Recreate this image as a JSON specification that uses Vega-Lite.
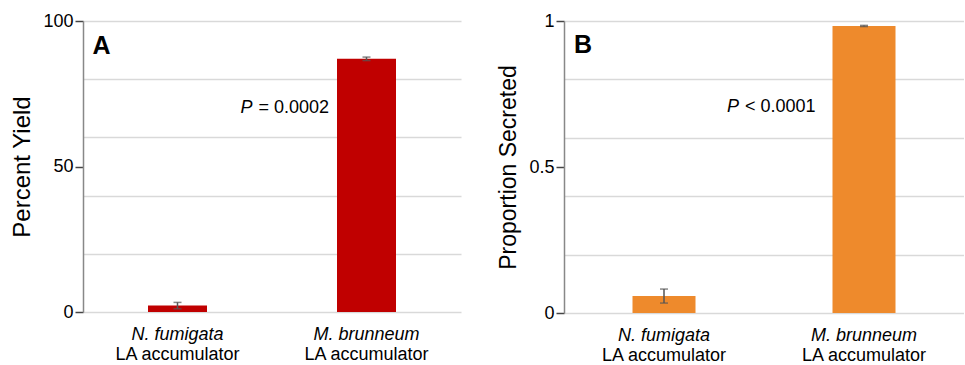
{
  "$schema": "https://vega.github.io/schema/vega-lite/v6.json",
  "padding": {"left": 10, "top": 12, "right": 0, "bottom": 0},
  "background": "white",
  "config": {
    "font": "Liberation Sans",
    "view": {"stroke": null},
    "axis": {"labelColor": "#000", "titleColor": "#000", "titleFontWeight": "normal", "labelFontSize": 18, "titleFontSize": 24}
  },
  "spacing": 36,
  "hconcat": [
    {
      "width": 378,
      "height": 291,
      "data": {"values": [
        {"strain": "N. fumigata", "mean": 2.2, "err": 1.1},
        {"strain": "M. brunneum", "mean": 87, "err": 0.6}
      ]},
      "layer": [
        {
          "mark": {"type": "bar", "color": "#C00000", "size": 59},
          "encoding": {
            "x": {"field": "strain", "type": "nominal", "sort": null,
              "scale": {"paddingInner": 0, "paddingOuter": 0},
              "axis": {"title": null, "labelFontStyle": "italic", "labelPadding": 13, "labelAngle": 0, "domain": false, "ticks": false, "grid": false}},
            "y": {"field": "mean", "type": "quantitative", "scale": {"domain": [0, 100]},
              "axis": {"title": "Percent Yield", "values": [0, 50, 100], "grid": false, "orient": "left",
                "domainColor": "#888888", "domainWidth": 1.5, "tickColor": "#444444", "tickWidth": 1.5, "tickSize": 8,
                "labelPadding": 2, "titlePadding": 8}}
          }
        },
        {
          "mark": {"type": "errorbar", "ticks": true, "size": 8, "thickness": 1.5, "color": "#555555"},
          "encoding": {
            "x": {"field": "strain", "type": "nominal", "sort": null,
              "axis": {"title": null, "labelExpr": "'LA accumulator'", "labelPadding": 33, "labelAngle": 0, "domain": false, "ticks": false, "grid": false, "orient": "bottom"}},
            "y": {"field": "mean", "type": "quantitative",
              "axis": {"title": null, "values": [0, 20, 40, 60, 80, 100], "grid": true, "gridColor": "#d9d9d9", "gridWidth": 1.5,
                "labels": false, "ticks": false, "domain": false, "orient": "left"}},
            "yError": {"field": "err"}
          }
        },
        {
          "data": {"values": [{"strain": "N. fumigata", "val": 91.4, "t": "A"}]},
          "mark": {"type": "text", "align": "left", "baseline": "middle", "fontSize": 25, "fontWeight": "bold", "dx": -85},
          "encoding": {
            "x": {"field": "strain", "type": "nominal", "sort": null, "axis": null},
            "y": {"field": "val", "type": "quantitative", "axis": null},
            "text": {"field": "t"}
          }
        },
        {
          "data": {"values": [{"strain": "M. brunneum", "val": 70, "t": "P"}]},
          "mark": {"type": "text", "align": "right", "baseline": "middle", "fontSize": 18, "fontStyle": "italic", "dx": -114},
          "encoding": {
            "x": {"field": "strain", "type": "nominal", "sort": null, "axis": null},
            "y": {"field": "val", "type": "quantitative", "axis": null},
            "text": {"field": "t"}
          }
        },
        {
          "data": {"values": [{"strain": "M. brunneum", "val": 70, "t": "= 0.0002"}]},
          "mark": {"type": "text", "align": "left", "baseline": "middle", "fontSize": 18, "dx": -108},
          "encoding": {
            "x": {"field": "strain", "type": "nominal", "sort": null, "axis": null},
            "y": {"field": "val", "type": "quantitative", "axis": null},
            "text": {"field": "t"}
          }
        }
      ],
      "resolve": {"axis": {"x": "independent", "y": "independent"}}
    },
    {
      "width": 400,
      "height": 292,
      "data": {"values": [
        {"strain": "N. fumigata", "mean": 0.058, "err": 0.024},
        {"strain": "M. brunneum", "mean": 0.983, "err": 0.002}
      ]},
      "layer": [
        {
          "mark": {"type": "bar", "color": "#EE8A2C", "size": 63},
          "encoding": {
            "x": {"field": "strain", "type": "nominal", "sort": null,
              "scale": {"paddingInner": 0, "paddingOuter": 0},
              "axis": {"title": null, "labelFontStyle": "italic", "labelPadding": 13, "labelAngle": 0, "domain": false, "ticks": false, "grid": false}},
            "y": {"field": "mean", "type": "quantitative", "scale": {"domain": [0, 1]},
              "axis": {"title": "Proportion Secreted", "titleFontSize": 23, "values": [0, 0.5, 1], "format": "~g", "grid": false, "orient": "left",
                "domainColor": "#888888", "domainWidth": 1.5, "tickColor": "#444444", "tickWidth": 1.5, "tickSize": 8,
                "labelPadding": 2, "titlePadding": 8}}
          }
        },
        {
          "mark": {"type": "errorbar", "ticks": true, "size": 8, "thickness": 1.5, "color": "#555555"},
          "encoding": {
            "x": {"field": "strain", "type": "nominal", "sort": null,
              "axis": {"title": null, "labelExpr": "'LA accumulator'", "labelPadding": 33, "labelAngle": 0, "domain": false, "ticks": false, "grid": false, "orient": "bottom"}},
            "y": {"field": "mean", "type": "quantitative",
              "axis": {"title": null, "values": [0, 0.2, 0.4, 0.6, 0.8, 1], "grid": true, "gridColor": "#d9d9d9", "gridWidth": 1.5,
                "labels": false, "ticks": false, "domain": false, "orient": "left"}},
            "yError": {"field": "err"}
          }
        },
        {
          "data": {"values": [{"strain": "N. fumigata", "val": 0.918, "t": "B"}]},
          "mark": {"type": "text", "align": "left", "baseline": "middle", "fontSize": 25, "fontWeight": "bold", "dx": -90},
          "encoding": {
            "x": {"field": "strain", "type": "nominal", "sort": null, "axis": null},
            "y": {"field": "val", "type": "quantitative", "axis": null},
            "text": {"field": "t"}
          }
        },
        {
          "data": {"values": [{"strain": "M. brunneum", "val": 0.705, "t": "P"}]},
          "mark": {"type": "text", "align": "right", "baseline": "middle", "fontSize": 18, "fontStyle": "italic", "dx": -125},
          "encoding": {
            "x": {"field": "strain", "type": "nominal", "sort": null, "axis": null},
            "y": {"field": "val", "type": "quantitative", "axis": null},
            "text": {"field": "t"}
          }
        },
        {
          "data": {"values": [{"strain": "M. brunneum", "val": 0.705, "t": "< 0.0001"}]},
          "mark": {"type": "text", "align": "left", "baseline": "middle", "fontSize": 18, "dx": -119},
          "encoding": {
            "x": {"field": "strain", "type": "nominal", "sort": null, "axis": null},
            "y": {"field": "val", "type": "quantitative", "axis": null},
            "text": {"field": "t"}
          }
        }
      ],
      "resolve": {"axis": {"x": "independent", "y": "independent"}}
    }
  ]
}
